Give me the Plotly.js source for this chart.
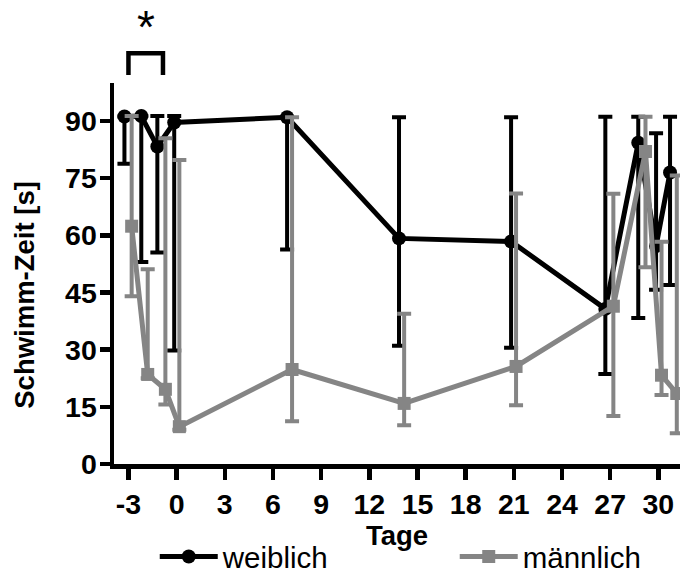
<!DOCTYPE html>
<html>
<head>
<meta charset="utf-8">
<script src="https://cdn.plot.ly/plotly-3.0.1.min.js"></script>
<style>
  html, body { margin: 0; padding: 0; background: #fff; }
  #chart { width: 680px; height: 578px; }
</style>
</head>
<body>
<div id="chart"></div>
<script>
// Schwimm-Zeit (Mittelwert) je Tag, mit Fehlerbalken nach oben / unten
const weiblichTage = [-3.25, -2.2, -1.2, -0.15, 6.88, 13.85, 20.83, 26.7, 28.75, 29.86, 30.73];
const weiblichZeit = [91.2, 91.3, 83.3, 89.6, 91.0, 59.2, 58.4, 40.7, 84.3, 57.2, 76.5];
const weiblichFehlerOben = [0, 0, 8.0, 1.7, 0, 31.8, 32.6, 50.4, 6.8, 29.6, 14.6];
const weiblichFehlerUnten = [12.4, 38.3, 27.8, 59.8, 34.7, 28.2, 27.9, 17.1, 46.0, 11.5, 29.5];

const maennlichTage = [-2.8, -1.8, -0.7, 0.17, 7.19, 14.17, 21.14, 27.2, 29.2, 30.2, 31.15];
const maennlichZeit = [62.4, 23.5, 19.6, 9.8, 24.8, 15.9, 25.6, 41.4, 82.0, 23.3, 18.5];
const maennlichFehlerOben = [28.9, 27.6, 65.9, 70.0, 66.2, 23.5, 45.4, 29.5, 9.1, 35.0, 57.2];
const maennlichFehlerUnten = [18.4, 1.0, 4.0, 0.8, 13.6, 5.7, 10.2, 28.8, 30.4, 5.2, 10.4];

const serienNamen = ['weiblich', 'männlich'];
const xTicks = [-3, 0, 3, 6, 9, 12, 15, 18, 21, 24, 27, 30];
const yTicks = [0, 15, 30, 45, 60, 75, 90];
const xTitel = 'Tage';
const yTitel = 'Schwimm-Zeit [s]';

// Signifikanz-Klammer zwischen Tag -3 und Tag -1
const klammerTage = [-3, -0.85];
const klammerText = '*';

const FONT = 'Liberation Sans, Arial, Helvetica, sans-serif';
const GRAU = '#858585';

const traces = [
  {
    x: weiblichTage, y: weiblichZeit, name: serienNamen[0], legend: 'legend',
    type: 'scatter', mode: 'lines+markers',
    line: { color: '#000', width: 5 },
    marker: { color: '#000', size: 14, symbol: 'circle' },
    error_y: { type: 'data', symmetric: false, array: weiblichFehlerOben,
               arrayminus: weiblichFehlerUnten, color: '#000', thickness: 4, width: 7 }
  },
  {
    x: maennlichTage, y: maennlichZeit, name: serienNamen[1], legend: 'legend2',
    type: 'scatter', mode: 'lines+markers',
    line: { color: GRAU, width: 5 },
    marker: { color: GRAU, size: 13, symbol: 'square' },
    error_y: { type: 'data', symmetric: false, array: maennlichFehlerOben,
               arrayminus: maennlichFehlerUnten, color: GRAU, thickness: 4, width: 7 }
  },
  {
    // Klammer über den ersten Messtagen
    x: [klammerTage[0], klammerTage[0], klammerTage[1], klammerTage[1]],
    y: [0.5, 3.25, 3.25, 0.5],
    xaxis: 'x', yaxis: 'y2',
    type: 'scatter', mode: 'lines', showlegend: false, hoverinfo: 'skip',
    line: { color: '#000', width: 4.5 }
  }
];

const tickFont = { family: FONT, size: 28.5, color: '#000', weight: 'bold' };
const titleFont = { family: FONT, size: 27.5, color: '#000', weight: 'bold' };
const legendFont = { family: FONT, size: 29.5, color: '#000' };

const layout = {
  width: 680, height: 578,
  margin: { l: 114, r: 0, t: 0, b: 114, autoexpand: false },
  paper_bgcolor: '#fff', plot_bgcolor: '#fff',
  hovermode: false,
  showlegend: true,
  xaxis: {
    range: [-3.9, 31.35], automargin: false,
    tickvals: xTicks, ticktext: xTicks.map(String),
    ticks: 'outside', ticklen: 11, tickwidth: 4.5, tickcolor: '#000',
    showline: true, linewidth: 4.5, linecolor: '#000',
    showgrid: false, zeroline: false,
    tickfont: tickFont,
    title: { text: xTitel, font: titleFont, standoff: 6 }
  },
  yaxis: {
    domain: [0, 0.8213],
    range: [0, 100], automargin: false,
    tickvals: yTicks, ticktext: yTicks.map(String),
    ticks: 'outside', ticklen: 10, tickwidth: 4.5, tickcolor: '#000',
    ticklabelstandoff: -3,
    showline: true, linewidth: 4.5, linecolor: '#000',
    showgrid: false, zeroline: false,
    tickfont: tickFont
  },
  yaxis2: {
    domain: [0.83, 1], range: [0, 10], anchor: 'x',
    visible: false, fixedrange: true
  },
  annotations: [
    {
      // y-Achsentitel, etwas unterhalb der Achsenmitte
      xref: 'paper', yref: 'y', x: -0.158, y: 44.3,
      text: yTitel, textangle: -90, showarrow: false,
      font: titleFont, xanchor: 'center', yanchor: 'middle'
    },
    {
      xref: 'x', yref: 'y2',
      x: (klammerTage[0] + klammerTage[1]) / 2, y: 6.6,
      text: klammerText, showarrow: false,
      font: { family: FONT, size: 46, color: '#000' },
      xanchor: 'center', yanchor: 'middle'
    }
  ],
  legend: {
    orientation: 'h',
    x: 0.072, xanchor: 'left',
    y: -0.2, yanchor: 'middle',
    itemwidth: 58,
    font: legendFont,
    bgcolor: 'rgba(0,0,0,0)'
  },
  legend2: {
    orientation: 'h',
    x: 0.602, xanchor: 'left',
    y: -0.2, yanchor: 'middle',
    itemwidth: 58,
    font: legendFont,
    bgcolor: 'rgba(0,0,0,0)'
  }
};

Plotly.newPlot('chart', traces, layout, { displayModeBar: false, staticPlot: true });
</script>
</body>
</html>
